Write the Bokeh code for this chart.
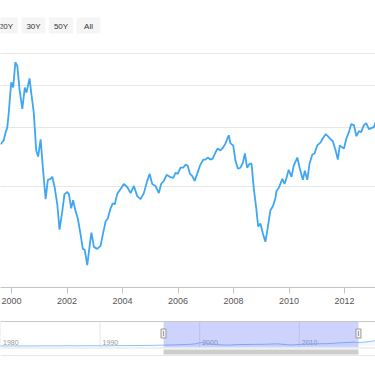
from bokeh.plotting import figure
from bokeh.layouts import column
from bokeh.models import (Range1d, LinearScale, FixedTicker, NumeralTickFormatter, Span)
from bokeh.embed import file_html
from bokeh.resources import INLINE
from bokeh.core.properties import value

# ---------------- data ----------------
month_years = [
    1999.60, 1999.67, 1999.72, 1999.78, 1999.85, 1999.90, 1999.99, 2000.06, 2000.14, 2000.21,
    2000.29, 2000.39, 2000.48, 2000.54, 2000.65, 2000.71, 2000.80, 2000.89, 2000.96, 2001.05,
    2001.13, 2001.23, 2001.31, 2001.41, 2001.47, 2001.56, 2001.65, 2001.73, 2001.83, 2001.91,
    2002.01, 2002.07, 2002.15, 2002.22, 2002.31, 2002.39, 2002.49, 2002.57, 2002.64, 2002.73,
    2002.82, 2002.88, 2002.97, 2003.09, 2003.21, 2003.29, 2003.39, 2003.47, 2003.57, 2003.65,
    2003.72, 2003.81, 2003.93, 2004.05, 2004.17, 2004.29, 2004.41, 2004.53, 2004.65, 2004.77,
    2004.89, 2004.98, 2005.07, 2005.19, 2005.31, 2005.39, 2005.49, 2005.59, 2005.70, 2005.83,
    2005.91, 2005.99, 2006.09, 2006.19, 2006.27, 2006.35, 2006.43, 2006.51, 2006.60, 2006.69,
    2006.79, 2006.91, 2006.99, 2007.07, 2007.17, 2007.25, 2007.35, 2007.43, 2007.53, 2007.63,
    2007.71, 2007.83, 2007.89, 2007.99, 2008.07, 2008.16, 2008.25, 2008.34, 2008.41, 2008.49,
    2008.58, 2008.65, 2008.73, 2008.82, 2008.89, 2008.97, 2009.06, 2009.15, 2009.24, 2009.33,
    2009.42, 2009.51, 2009.55, 2009.63, 2009.76, 2009.84, 2009.91, 2009.99, 2010.09, 2010.17,
    2010.30, 2010.39, 2010.50, 2010.57, 2010.66, 2010.74, 2010.84, 2010.92, 2011.02, 2011.14,
    2011.22, 2011.32, 2011.40, 2011.50, 2011.58, 2011.68, 2011.76, 2011.83, 2011.92, 2011.98,
    2012.07, 2012.16, 2012.24, 2012.34, 2012.43, 2012.52, 2012.60, 2012.70, 2012.78, 2012.88,
    2012.96, 2013.06, 2013.12,
]
index_values = [
    2675, 2718, 2750, 2888, 3011, 3320, 4094, 3954, 4707, 4577,
    3898, 3415, 3954, 3817, 4210, 3817, 3344, 2566, 2460, 2770,
    2278, 1835, 2096, 2110, 2140, 1981, 1772, 1488, 1688, 1900,
    1927, 1900, 1723, 1822, 1688, 1607, 1438, 1304, 1295, 1166,
    1341, 1458, 1322, 1304, 1331, 1438, 1574, 1607, 1723, 1784,
    1772, 1900, 1967, 2037, 1995, 1913, 2009, 1874, 1835, 1913,
    2081, 2184, 2037, 2009, 1913, 2037, 2081, 2169, 2140, 2125,
    2200, 2184, 2278, 2278, 2326, 2310, 2184, 2154, 2081, 2184,
    2310, 2409, 2409, 2443, 2409, 2426, 2529, 2601, 2566, 2619,
    2693, 2848, 2693, 2656, 2392, 2262, 2278, 2359, 2512, 2278,
    2342, 2342, 1981, 1723, 1520, 1552, 1447, 1369, 1520, 1700,
    1747, 1848, 1941, 1981, 2110, 2037, 2125, 2247, 2140, 2310,
    2443, 2262, 2096, 2231, 2096, 2342, 2494, 2512, 2656, 2712,
    2789, 2869, 2829, 2770, 2732, 2566, 2409, 2656, 2619, 2601,
    2789, 2909, 3074, 3052, 2829, 2929, 2909, 3053, 3096, 2970,
    2991, 3011, 3118,
]

main_tick_years = [2000, 2002, 2004, 2006, 2008, 2010, 2012]
y_grid_values = [1000, 2000, 3000, 4000, 5000]
range_buttons = ["20Y", "30Y", "50Y", "All"]

nav_years = [1979.5, 1981, 1982.5, 1984, 1985.5, 1987, 1987.8, 1989, 1990.8, 1992,
             1994, 1995.5, 1996.5, 1997.5, 1998.7, 1999.5, 2000.2, 2000.8, 2001.7, 2002.75,
             2004, 2005.5, 2006.5, 2007.8, 2009.15, 2010.3, 2011.3, 2012.7, 2013.5, 2014.5,
             2015.5, 2016.1, 2016.9, 2017.7]
nav_values = [150, 200, 180, 250, 280, 430, 330, 450, 350, 600,
              750, 1000, 1250, 1550, 2000, 2700, 4700, 3000, 1800, 1170,
              2000, 2150, 2300, 2850, 1370, 2300, 2800, 3050, 3600, 4400,
              5000, 4600, 5400, 7000]
nav_tick_years = [1980, 1990, 2000, 2010]
nav_selection = [1996.37, 2015.94]

# ---------------- layout constants ----------------
W = 375
MAIN_H = 312
NAV_H = 54
FRAME_H = 287                 # main plot area height (px)
PX_PER_DECADE = 335.0
FONT = value("Liberation Sans")

y_top = 1000 * 10 ** (FRAME_H / PX_PER_DECADE)

main = figure(width=W, height=MAIN_H, output_backend="svg", toolbar_location=None,
              x_range=Range1d(2000 - 11 / 27.75, 2000 + 364 / 27.75),
              y_range=Range1d(1000, y_top), y_axis_type="log", y_axis_location=None,
              min_border_left=0, min_border_right=0, min_border_top=0,
              min_border_bottom=MAIN_H - FRAME_H,
              outline_line_color=None, background_fill_color="white",
              border_fill_color="white")
main.extra_x_ranges = {"px": Range1d(0, W)}
main.extra_y_ranges = {"px": Range1d(FRAME_H, 0)}
main.extra_x_scales = {"px": LinearScale()}
main.extra_y_scales = {"px": LinearScale()}

main.xgrid.visible = False
main.ygrid.ticker = FixedTicker(ticks=y_grid_values, minor_ticks=[])
main.ygrid.grid_line_color = "#e6e6e6"
main.ygrid.grid_line_width = 1

ax = main.xaxis[0]
ax.ticker = FixedTicker(ticks=main_tick_years, minor_ticks=[])
ax.formatter = NumeralTickFormatter(format="0")
ax.axis_line_color = "#c4c4c4"
ax.major_tick_line_color = "#c4c4c4"
ax.major_tick_out = 6
ax.major_tick_in = 0
ax.minor_tick_out = 0
ax.major_label_standoff = 4
ax.major_label_text_font_size = "9px"
ax.major_label_text_color = "#555555"
ax.major_label_text_font = "Liberation Sans"

# range selector buttons
btn_x = [5.5 + i * 27.5 for i in range(len(range_buttons))]
main.rect(x=btn_x, y=25, width=24, height=16, fill_color="#f5f5f5", line_color=None,
          x_range_name="px", y_range_name="px")
main.text(x=btn_x, y=25.5, text=range_buttons, text_align="center",
          text_baseline="middle", text_font_size="8px", text_color="#333333",
          text_font=FONT, x_range_name="px", y_range_name="px")

main.line(month_years, index_values, line_color="#3fa6f2", line_width=1.8)

# ---------------- navigator ----------------
nav = figure(width=W, height=NAV_H, output_backend="svg", toolbar_location=None,
             x_range=Range1d(1980, 1980 + W / 9.96),
             y_range=Range1d(MAIN_H + NAV_H, MAIN_H),
             x_axis_location=None, y_axis_location=None,
             min_border_left=0, min_border_right=0, min_border_top=0, min_border_bottom=0,
             outline_line_color=None, background_fill_color="white",
             border_fill_color="white")
NAV_BASE = 345.6
NAV_PX_PER_UNIT = 0.0008
nav.extra_y_ranges = {"val": Range1d((NAV_BASE - (MAIN_H + NAV_H)) / NAV_PX_PER_UNIT,
                                     (NAV_BASE - MAIN_H) / NAV_PX_PER_UNIT)}
nav.extra_y_scales = {"val": LinearScale()}
nav.xgrid.visible = False
nav.ygrid.visible = False

nav.segment(x0=nav_tick_years, x1=nav_tick_years, y0=321, y1=347,
            line_color="#e6e6e6", line_width=1)
nav.text(x=nav_tick_years, y=341.5, text=[str(t) for t in nav_tick_years],
         x_offset=2.5, text_align="left", text_baseline="middle",
         text_font_size="7px", text_color="#999999", text_font=FONT)

nav.varea(x=nav_years, y1=0, y2=nav_values, fill_color="#7cb5ec", fill_alpha=0.08,
          y_range_name="val")
nav.line(nav_years, nav_values, line_color="#8cc2f2", line_width=1, y_range_name="val")

nav.quad(left=[nav_selection[0]], right=[nav_selection[1]], top=321, bottom=347,
         fill_color="#5a6ef5", fill_alpha=0.3, line_color=None)

nav.add_layout(Span(location=321, dimension="width", line_color="#c8c8c8", line_width=1.2))
nav.add_layout(Span(location=347.5, dimension="width", line_color="#e2e2e2", line_width=1))
nav.add_layout(Span(location=355, dimension="width", line_color="#e8e8e8", line_width=1))

# scrollbar
nav.quad(left=[nav_selection[0]], right=[nav_selection[1]], top=349, bottom=354,
         fill_color="#cdcdcd", line_color=None)

# handles
nav.rect(x=nav_selection, y=333, width=5, height=9, width_units="screen",
         fill_color="#f2f2f2", line_color="#999999", line_width=1)
nav.segment(x0=nav_selection, x1=nav_selection, y0=330.5, y1=335.5,
            line_color="#999999", line_width=1)

layout = column(main, nav, spacing=0)
open("out.html", "w").write(file_html(layout, INLINE))
